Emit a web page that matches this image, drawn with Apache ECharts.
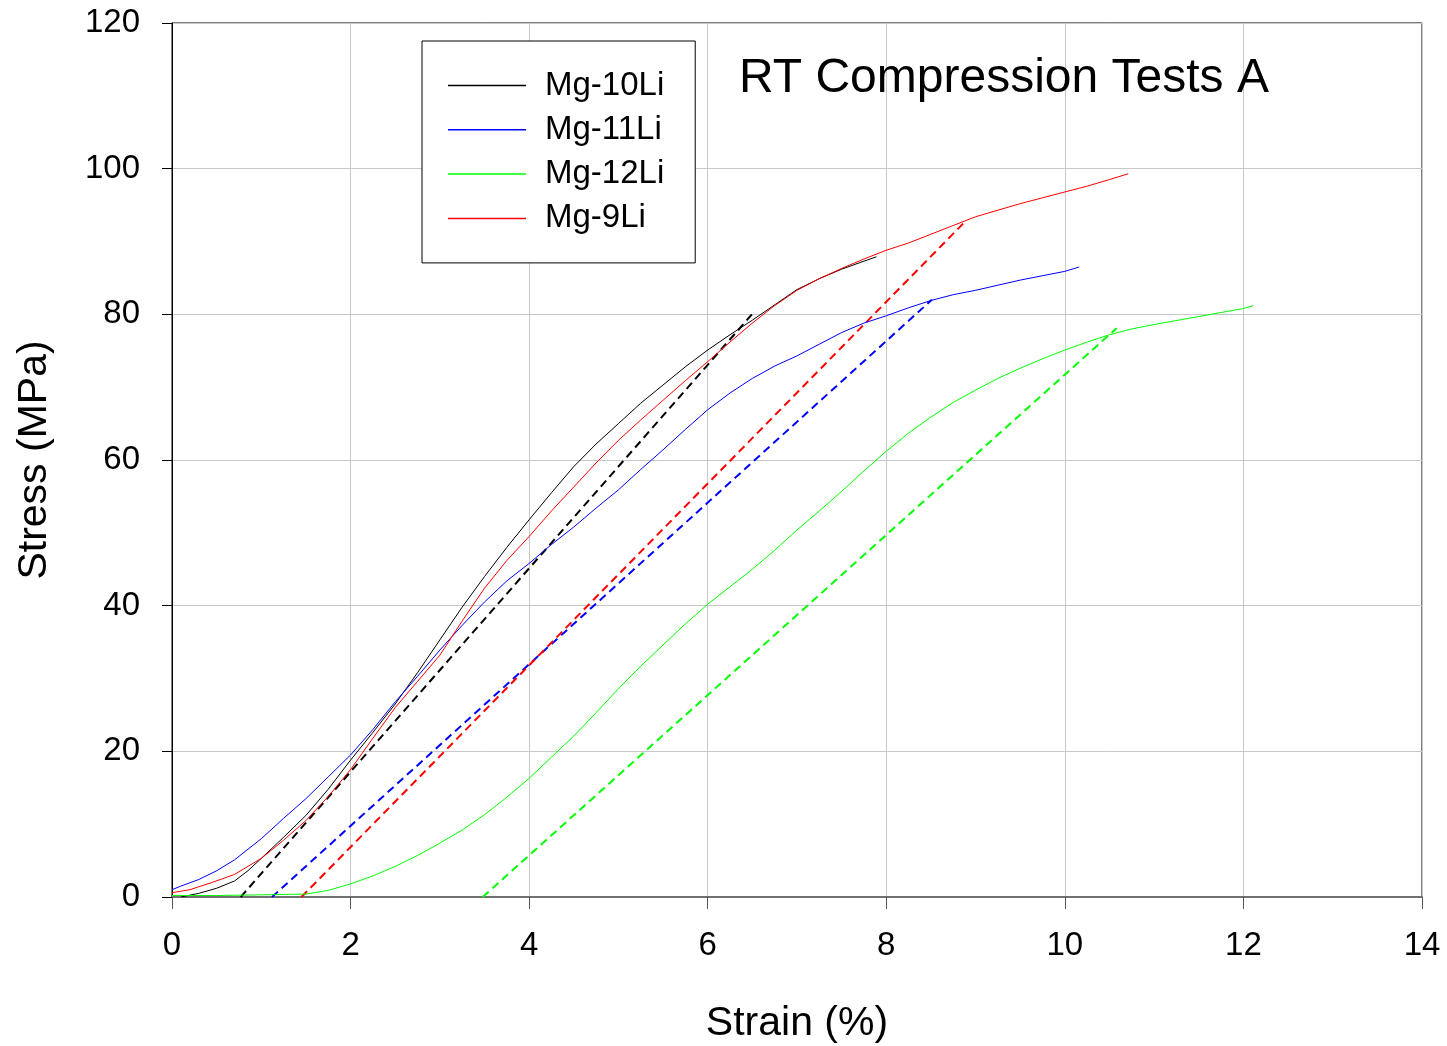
<!DOCTYPE html>
<html>
<head>
<meta charset="utf-8">
<script src="https://cdn.jsdelivr.net/npm/echarts@6/dist/echarts.min.js"></script>
<style>
html,body{margin:0;padding:0;background:#fff;}
#c{width:1447px;height:1046px;}
</style>
</head>
<body>
<div id="c"></div>
<script>
// ---- data ----
const titleText = 'RT Compression Tests A';
const xTicks = [0, 2, 4, 6, 8, 10, 12, 14];
const yTicks = [0, 20, 40, 60, 80, 100, 120];
const seriesNames = ['Mg-10Li', 'Mg-11Li', 'Mg-12Li', 'Mg-9Li'];
const seriesColors = ['#000000', '#0000ff', '#00ff00', '#ff0000'];

const mg10Li = [[0.1,0],[0.3,0.5],[0.5,1.2],[0.7,2.2],[0.85,3.6],[1.0,5.3],[1.25,8.2],[1.5,11.2],[1.75,14.8],[2.0,18.8],[2.25,22.6],[2.5,26.5],[2.75,30.8],[3.0,35.3],[3.25,39.8],[3.5,44],[3.75,48],[4.0,51.8],[4.25,55.5],[4.5,59.1],[4.75,62.2],[5.0,65.0],[5.25,67.8],[5.5,70.3],[5.75,72.8],[6.0,75.1],[6.25,77.2],[6.5,79.2],[6.75,81.3],[7.0,83.4],[7.25,84.9],[7.5,86.2],[7.75,87.3],[7.89,87.9]];

const mg11Li = [[0,1.0],[0.1,1.5],[0.3,2.4],[0.5,3.6],[0.7,5.1],[1.0,8.0],[1.25,10.8],[1.5,13.5],[1.75,16.5],[2.0,19.5],[2.25,23],[2.5,26.8],[2.75,30.3],[3.0,33.9],[3.25,37.3],[3.5,40.5],[3.75,43.4],[4.0,45.8],[4.25,48.4],[4.5,50.8],[4.75,53.4],[5.0,55.9],[5.25,58.7],[5.5,61.4],[5.75,64.2],[6.0,66.9],[6.25,69.2],[6.5,71.2],[6.75,72.9],[7.0,74.3],[7.25,75.9],[7.5,77.5],[7.75,78.8],[8.0,79.8],[8.25,80.9],[8.5,81.9],[8.75,82.7],[9.0,83.3],[9.25,84],[9.5,84.7],[9.75,85.3],[10.0,85.9],[10.16,86.5]];

const mg12Li = [[0,0.2],[0.5,0.2],[1.0,0.3],[1.5,0.4],[1.75,0.9],[2.0,1.8],[2.25,2.9],[2.5,4.2],[2.75,5.7],[3.0,7.4],[3.25,9.2],[3.5,11.3],[3.75,13.7],[4.0,16.3],[4.25,19.2],[4.5,22.1],[4.75,25.3],[5.0,28.6],[5.25,31.7],[5.5,34.6],[5.75,37.5],[6.0,40.2],[6.25,42.6],[6.5,45.0],[6.75,47.6],[7.0,50.4],[7.25,53.0],[7.5,55.7],[7.75,58.5],[8.0,61.2],[8.25,63.7],[8.5,65.9],[8.75,67.9],[9.0,69.6],[9.25,71.2],[9.5,72.6],[9.75,73.9],[10.0,75.1],[10.25,76.2],[10.5,77.2],[10.75,78.0],[11.0,78.6],[11.5,79.7],[12.0,80.8],[12.11,81.2]];

const mg9Li = [[0,0.6],[0.2,1.0],[0.45,2.0],[0.7,3.1],[1.0,5.3],[1.25,7.8],[1.5,10.5],[1.75,13.8],[2.0,17.5],[2.25,21.8],[2.5,26],[2.75,29.6],[3.0,33.2],[3.25,37.9],[3.5,42.4],[3.75,46.2],[4.0,49.5],[4.25,53],[4.5,56.3],[4.75,59.6],[5.0,62.7],[5.25,65.5],[5.5,68.2],[5.75,70.9],[6.0,73.5],[6.25,76.2],[6.5,78.8],[6.75,81.2],[7.0,83.3],[7.25,84.9],[7.5,86.3],[7.75,87.6],[8.0,88.8],[8.25,89.8],[8.5,91],[8.75,92.2],[9.0,93.4],[9.25,94.3],[9.5,95.2],[9.75,96],[10.0,96.8],[10.25,97.6],[10.5,98.5],[10.71,99.3]];

// offset (modulus) lines
const fit10Li = [[0.77,0],[6.51,80.2]];
const fit11Li = [[1.12,0],[8.51,82.0]];
const fit12Li = [[3.48,0],[10.58,78.1]];
const fit9Li  = [[1.45,0],[8.88,92.7]];

const curves = [mg10Li, mg11Li, mg12Li, mg9Li];
const fits = [fit10Li, fit11Li, fit12Li, fit9Li];

const FONT = '"Liberation Sans", Arial, Helvetica, sans-serif';

const series = [];
fits.forEach((d, i) => {
  series.push({
    name: seriesNames[i] + ' fit',
    type: 'line', data: d, symbol: 'none', silent: true, z: 2,
    lineStyle: {color: seriesColors[i], width: 2, type: [8, 5]}
  });
});
curves.forEach((d, i) => {
  series.push({
    name: seriesNames[i],
    type: 'line', data: d, symbol: 'none', showSymbol: false, z: 3,
    lineStyle: {color: seriesColors[i], width: 1},
    itemStyle: {color: seriesColors[i]}
  });
});

const chart = echarts.init(document.getElementById('c'), null, {renderer: 'canvas'});
chart.setOption({
  animation: false,
  backgroundColor: '#fff',
  title: {
    text: titleText, left: 734, top: 50,
    textStyle: {fontFamily: FONT, fontSize: 48, fontWeight: 'normal', color: '#000'}
  },
  legend: {
    data: seriesNames,
    orient: 'vertical',
    left: 422, top: 41,
    icon: 'rect',
    itemWidth: 78, itemHeight: 1.5,
    itemGap: 11.3,
    padding: [28, 31, 28, 26],
    backgroundColor: '#fff',
    borderColor: '#000', borderWidth: 1,
    textStyle: {fontFamily: FONT, fontSize: 33, color: '#000', lineHeight: 33, padding: [0, 0, 0, 14]}
  },
  grid: {
    left: 172, top: 23, right: 25, bottom: 149,
    outerBoundsMode: 'none', containLabel: false,
    show: true, borderColor: '#000', borderWidth: 1, backgroundColor: 'transparent'
  },
  xAxis: {
    type: 'value', min: 0, max: 14, interval: 2,
    name: 'Strain (%)', nameLocation: 'middle', nameGap: 106,
    nameTextStyle: {fontFamily: FONT, fontSize: 41, color: '#000'},
    axisLine: {show: true, onZero: false, lineStyle: {color: '#707070', width: 2}},
    axisTick: {show: true, inside: false, length: 12, lineStyle: {color: '#555', width: 1}},
    axisLabel: {margin: 32, fontFamily: FONT, fontSize: 33, color: '#000',
      formatter: v => xTicks.includes(v) ? String(v) : ''},
    splitLine: {show: true, lineStyle: {color: '#c8c8c8', width: 1}}
  },
  yAxis: {
    type: 'value', min: 0, max: 120, interval: 20,
    name: 'Stress (MPa)', nameLocation: 'middle', nameGap: 117, nameRotate: 90,
    nameTextStyle: {fontFamily: FONT, fontSize: 41, color: '#000'},
    axisLine: {show: true, onZero: false, lineStyle: {color: '#000', width: 1}},
    axisTick: {show: true, inside: false, length: 10, lineStyle: {color: '#000', width: 1}},
    axisLabel: {margin: 32, fontFamily: FONT, fontSize: 33, color: '#000',
      formatter: v => yTicks.includes(v) ? String(v) : ''},
    splitLine: {show: true, lineStyle: {color: '#c8c8c8', width: 1}}
  },
  series: series
});
</script>
</body>
</html>
